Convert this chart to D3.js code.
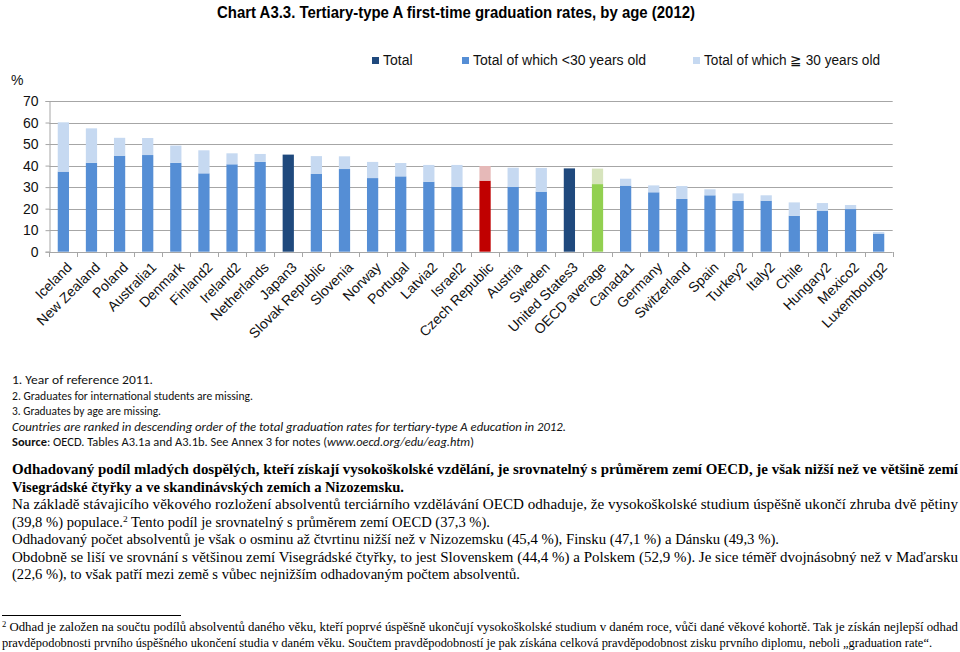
<!DOCTYPE html>
<html>
<head>
<meta charset="utf-8">
<script src="https://cdn.jsdelivr.net/npm/d3@7"></script>
<style>
  html, body { margin: 0; padding: 0; background: #fff; }
  svg { display: block; }
</style>
</head>
<body>
<svg id="chart" width="960" height="652"></svg>
<script>
// ---------- DATA ----------
const categories = ["Iceland","New Zealand","Poland","Australia1","Denmark","Finland2","Ireland2","Netherlands","Japan3","Slovak Republic","Slovenia","Norway","Portugal","Latvia2","Israel2","Czech Republic","Austria","Sweden","United States3","OECD average","Canada1","Germany","Switzerland","Spain","Turkey2","Italy2","Chile","Hungary2","Mexico2","Luxembourg2"];
const totalValues = [60.1,57.3,52.9,52.8,49.3,47.1,45.7,45.4,45.1,44.4,44.3,41.7,41.2,40.3,40.3,39.8,39.0,38.9,38.7,38.6,33.9,30.8,30.5,29.0,27.1,26.2,22.9,22.6,21.7,9.1];
const under30Values = [37.2,41.3,44.6,44.9,41.3,36.4,40.6,41.7,null,36.1,38.4,34.2,35.0,32.5,30.2,33.0,30.2,27.9,null,31.4,30.7,27.6,24.5,26.2,23.7,23.7,16.7,18.9,19.8,8.4];
const yTicks = [0,10,20,30,40,50,60,70];
const seriesNames = ["Total","Total of which <30 years old","Total of which \u2267 30 years old"];
const highlightCzech = "Czech Republic";
const highlightOECD = "OECD average";

const titleText = "Chart A3.3. Tertiary-type A first-time graduation rates, by age (2012)";
const noteLines = [
  "1. Year of reference 2011.",
  "2. Graduates for international students are missing.",
  "3. Graduates by age are missing."
];
const rankNote = "Countries are ranked in descending order of the total graduation rates for tertiary-type A education in 2012.";

// ---------- STYLE ----------
const C = {
  total: "#1f497d",
  under: "#558ed5",
  over: "#c6d9f1",
  czUnder: "#c00000",
  czOver: "#e6b9b8",
  oeUnder: "#92d050",
  oeOver: "#d7e4bd",
  grid: "#a6a6a6",
  text: "#111"
};

const svg = d3.select("#chart");
svg.append("rect").attr("width",960).attr("height",652).attr("fill","#fff");

// Title
svg.append("text").attr("x",217).attr("y",18)
  .attr("font-family","'Liberation Sans', Arial, sans-serif").attr("font-weight","bold")
  .attr("font-size",16).attr("fill","#000")
  .attr("textLength",478).attr("lengthAdjust","spacingAndGlyphs")
  .text(titleText);

// Scales
const x0 = 49.3, x1 = 892.7, yTop = 101, yBot = 251.7;
const x = d3.scaleBand().domain(categories).range([x0,x1]).paddingInner(0.6).paddingOuter(0.3);
const y = d3.scaleLinear().domain([0,70]).range([yBot,yTop]);

const g = svg.append("g");

// gridlines
g.selectAll("line.grid").data(yTicks.filter(d=>d>0)).join("line")
  .attr("x1",x0).attr("x2",x1)
  .attr("y1",d=>Math.round(y(d))+0.5).attr("y2",d=>Math.round(y(d))+0.5)
  .attr("stroke",C.grid).attr("stroke-width",1);

// y axis
const yAxis = d3.axisLeft(y).tickValues(yTicks).tickSize(4).tickPadding(7);
const yg = g.append("g").attr("transform",`translate(${Math.round(x0)+0.5},0)`).call(yAxis);
yg.select(".domain").attr("stroke",C.grid);
yg.selectAll(".tick line").attr("stroke",C.grid);
yg.selectAll(".tick text").attr("font-family","'Liberation Sans', Arial, sans-serif").attr("font-size",14).attr("fill",C.text);

svg.append("text").attr("x",11).attr("y",85)
  .attr("font-family","'Liberation Sans', Arial, sans-serif").attr("font-size",14).attr("fill",C.text).text("%");

// bars
const rows = categories.map((c,i)=>({c, total: totalValues[i], under: under30Values[i]}));
const colUnder = d => d.c===highlightCzech ? C.czUnder : d.c===highlightOECD ? C.oeUnder : C.under;
const colOver = d => d.c===highlightCzech ? C.czOver : d.c===highlightOECD ? C.oeOver : C.over;

const bars = g.append("g");
rows.forEach(d=>{
  if (d.under == null) {
    bars.append("rect").attr("x",x(d.c)).attr("width",x.bandwidth())
      .attr("y",y(d.total)).attr("height",y(0)-y(d.total)).attr("fill",C.total);
  } else {
    bars.append("rect").attr("x",x(d.c)).attr("width",x.bandwidth())
      .attr("y",y(d.under)).attr("height",y(0)-y(d.under)).attr("fill",colUnder(d));
    bars.append("rect").attr("x",x(d.c)).attr("width",x.bandwidth())
      .attr("y",y(d.total)).attr("height",y(d.under)-y(d.total)).attr("fill",colOver(d));
  }
});

// x axis line with ticks at band boundaries
const step = x.step();
g.append("line").attr("x1",x0).attr("x2",x1).attr("y1",Math.round(yBot)+0.5).attr("y2",Math.round(yBot)+0.5).attr("stroke",C.grid);
g.selectAll("line.xt").data(d3.range(categories.length+1)).join("line")
  .attr("x1",i=>Math.round(x0+i*step)+0.5).attr("x2",i=>Math.round(x0+i*step)+0.5)
  .attr("y1",Math.round(yBot)).attr("y2",Math.round(yBot)+5).attr("stroke",C.grid);

// x labels
g.selectAll("text.xl").data(categories).join("text")
  .attr("transform",d=>`translate(${x(d)+x.bandwidth()/2+6},${yBot+13}) rotate(-45)`)
  .attr("text-anchor","end").attr("dy","0.35em")
  .attr("font-family","'Liberation Sans', Arial, sans-serif").attr("font-size",14).attr("fill",C.text)
  .text(d=>d);

// legend
const legendX = [372,462,693];
const legendLen = [null,null,176];
const legendColors = [C.total, C.under, C.over];
seriesNames.forEach((n,i)=>{
  svg.append("rect").attr("x",legendX[i]).attr("y",57).attr("width",7).attr("height",7).attr("fill",legendColors[i]);
  const t = svg.append("text").attr("x",legendX[i]+11).attr("y",65)
    .attr("font-family","'Liberation Sans', Arial, sans-serif").attr("font-size",14).attr("fill",C.text).text(n);
  if (legendLen[i]) t.attr("textLength",legendLen[i]).attr("lengthAdjust","spacingAndGlyphs");
});

// notes
const noteFont = "Carlito, Lato, 'Open Sans', sans-serif";
const noteEnds = [153,253,161];
noteLines.forEach((t,i)=>{
  svg.append("text").attr("x",12).attr("y",384+i*15.5)
    .attr("font-family",noteFont).attr("font-size",12).attr("fill","#111")
    .attr("textLength",noteEnds[i]-12).attr("lengthAdjust","spacingAndGlyphs").text(t);
});
svg.append("text").attr("x",12).attr("y",384+3*15.5)
  .attr("font-family",noteFont).attr("font-size",12).attr("font-style","italic").attr("fill","#111")
  .attr("textLength",566-12).attr("lengthAdjust","spacingAndGlyphs").text(rankNote);
const src = svg.append("text").attr("x",12).attr("y",384+4*15.5)
  .attr("font-family",noteFont).attr("font-size",12).attr("fill","#111")
  .attr("textLength",474-12).attr("lengthAdjust","spacingAndGlyphs");
src.append("tspan").attr("font-weight","bold").text("Source");
src.append("tspan").text(": OECD. Tables A3.1a and A3.1b. See Annex 3 for notes (");
src.append("tspan").attr("font-style","italic").text("www.oecd.org/edu/eag.htm");
src.append("tspan").text(")");

// body text
const serif = "'Liberation Serif', 'Times New Roman', serif";
function line(parts, yy, endX, opts={}) {
  const t = svg.append("text").attr("x", opts.x0 || 12).attr("y", yy)
    .attr("font-family", serif).attr("font-size", opts.size || 14).attr("fill","#000");
  if (opts.bold) t.attr("font-weight","bold");
  if (endX) t.attr("textLength", endX - (opts.x0 || 12)).attr("lengthAdjust", opts.adj || "spacingAndGlyphs");
  parts.forEach(p=>{
    if (typeof p === "string") t.append("tspan").text(p);
    else t.append("tspan").attr("font-size", p.size).attr("baseline-shift","super").text(p.sup);
  });
  return t;
}
line(["Odhadovaný podíl mladých dospělých, kteří získají vysokoškolské vzdělání, je srovnatelný s průměrem zemí OECD, je však nižší než ve většině zemí"], 474, 958, {bold:true});
line(["Visegrádské čtyřky a ve skandinávských zemích a Nizozemsku."], 491.5, 404, {bold:true});
line(["Na základě stávajicího věkového rozložení absolventů terciárního vzdělávání OECD odhaduje, že vysokoškolské studium úspěšně ukončí zhruba dvě pětiny"], 509, 958);
line(["(39,8 %) populace.", {sup:"2", size:9}, " Tento podíl je srovnatelný s průměrem zemí OECD (37,3 %)."], 526.5, 490);
line(["Odhadovaný počet absolventů je však o osminu až čtvrtinu nižší než v Nizozemsku (45,4 %), Finsku (47,1 %) a Dánsku (49,3 %)."], 544, 779);
line(["Obdobně se liší ve srovnání s většinou zemí Visegrádské čtyřky, to jest Slovenskem (44,4 %) a Polskem (52,9 %). Je sice téměř dvojnásobný než v Maďarsku"], 561.5, 958);
line(["(22,6 %), to však patří mezi země s vůbec nejnižším odhadovaným počtem absolventů."], 579, 520);

// footnote
svg.append("line").attr("x1",2).attr("x2",181).attr("y1",615.5).attr("y2",615.5).attr("stroke","#000").attr("stroke-width",1);
line([{sup:"2", size:8}, " Odhad je založen na součtu podílů absolventů daného věku, kteří poprvé úspěšně ukončují vysokoškolské studium v daném roce, vůči dané věkové kohortě. Tak je získán nejlepší odhad"], 631, 958, {size:12, x0:2});
line(["pravděpodobnosti prvního úspěšného ukončení studia v daném věku. Součtem pravděpodobností je pak získána celková pravděpodobnost zisku prvního diplomu, neboli „graduation rate“."], 647, 932, {size:12, x0:2});
</script>
</body>
</html>
